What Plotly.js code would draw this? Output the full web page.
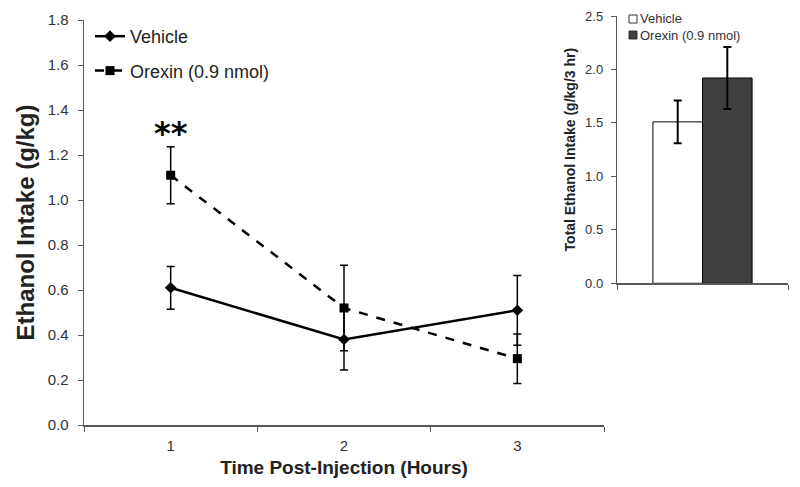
<!DOCTYPE html>
<html>
<head>
<meta charset="utf-8">
<script src="https://cdn.plot.ly/plotly-3.0.1.min.js"></script>
<style>html,body{margin:0;padding:0;background:#fff;}#chart{width:800px;height:487px;}</style>
</head>
<body>
<div id="chart"></div>
<script>
// Main time-course data
const hours = ['1', '2', '3'];
const vehicleMean = [0.61, 0.38, 0.51];
const vehicleErr = [0.095, 0.135, 0.155];
const orexinMean = [1.11, 0.52, 0.295];
const orexinErr = [0.127, 0.19, 0.11];
const seriesNames = ['Vehicle', 'Orexin (0.9 nmol)'];
const significance = {x: '1', y: 1.30, text: '**'};

// Inset totals
const totalCategory = ['Total'];
const totalVehicle = [1.51];
const totalVehicleErr = [0.20];
const totalOrexin = [1.92];
const totalOrexinErr = [0.29];

const FONT = 'Liberation Sans, Arial, sans-serif';

const traces = [
  {
    x: hours, y: vehicleMean, name: seriesNames[0], type: 'scatter', mode: 'lines+markers',
    line: {color: '#000', width: 2.5, dash: 'solid'},
    marker: {symbol: 'diamond', size: 9, color: '#000'},
    error_y: {type: 'data', array: vehicleErr, color: '#000', thickness: 1.5, width: 4},
    xaxis: 'x', yaxis: 'y', legend: 'legend', legendgroup: 'a'
  },
  {
    x: hours, y: orexinMean, name: seriesNames[1], type: 'scatter', mode: 'lines+markers',
    line: {color: '#000', width: 2.5, dash: 'dash'},
    marker: {symbol: 'square', size: 9, color: '#000'},
    error_y: {type: 'data', array: orexinErr, color: '#000', thickness: 1.5, width: 4},
    xaxis: 'x', yaxis: 'y', legend: 'legend', legendgroup: 'b'
  },
  {
    x: totalCategory, y: totalVehicle, name: seriesNames[0], type: 'bar',
    marker: {color: '#ffffff', line: {color: '#000', width: 1}},
    error_y: {type: 'data', array: totalVehicleErr, color: '#000', thickness: 2, width: 4},
    xaxis: 'x2', yaxis: 'y2', showlegend: false
  },
  {
    x: totalCategory, y: totalOrexin, name: seriesNames[1], type: 'bar',
    marker: {color: '#404040', line: {color: '#000', width: 1}},
    error_y: {type: 'data', array: totalOrexinErr, color: '#000', thickness: 2, width: 4},
    xaxis: 'x2', yaxis: 'y2', showlegend: false
  }
];

const layout = {
  width: 800, height: 487,
  margin: {l: 0, r: 0, t: 0, b: 0},
  paper_bgcolor: '#fff', plot_bgcolor: 'rgba(0,0,0,0)',
  font: {family: FONT, color: '#333'},
  barmode: 'group', bargap: 0.42, bargroupgap: 0,
  xaxis: {
    domain: [84/800, 604/800], anchor: 'y', type: 'category',
    range: [-0.5, 2.5], tickson: 'boundaries', ticks: 'outside', ticklen: 5,
    tickcolor: '#595959', showline: true, linecolor: '#595959', linewidth: 1.5,
    showgrid: false, zeroline: false,
    tickfont: {size: 15, color: '#333'}, ticklabelstandoff: 6,
    title: {text: '<b>Time Post-Injection (Hours)</b>', font: {size: 19, color: '#222'}, standoff: 8}
  },
  yaxis: {
    domain: [(487-425)/487, (487-20)/487], anchor: 'x',
    range: [0, 1.8], dtick: 0.2, tickformat: '.1f', ticks: 'outside', ticklen: 5,
    tickcolor: '#595959', showline: true, linecolor: '#595959', linewidth: 1.5,
    showgrid: false, zeroline: false,
    tickfont: {size: 15, color: '#333'}, ticklabelstandoff: 6,
    title: {text: '<b>Ethanol Intake (g/kg)</b>', font: {size: 24, color: '#222'}, standoff: 6}
  },
  xaxis2: {
    domain: [617/800, 788/800], anchor: 'y2', type: 'category',
    range: [-0.5, 0.5], tickson: 'boundaries', ticks: 'outside', ticklen: 5,
    tickcolor: '#595959', showline: true, linecolor: '#595959', linewidth: 1.2,
    showgrid: false, zeroline: false, showticklabels: false
  },
  yaxis2: {
    domain: [(487-283.3)/487, (487-16)/487], anchor: 'x2',
    range: [0, 2.5], dtick: 0.5, tickformat: '.1f', ticks: 'outside', ticklen: 5,
    tickcolor: '#595959', showline: true, linecolor: '#595959', linewidth: 1.2,
    showgrid: false, zeroline: false,
    tickfont: {size: 13, color: '#333'}, ticklabelstandoff: 5,
    title: {text: '<b>Total Ethanol Intake (g/kg/3 hr)</b>', font: {size: 14, color: '#222'}, standoff: 6}
  },
  legend: {
    x: 90/800, y: (487-18)/487, xanchor: 'left', yanchor: 'top',
    bgcolor: 'rgba(0,0,0,0)', borderwidth: 0,
    font: {size: 18, color: '#222'}, traceorder: 'grouped', tracegroupgap: 8
  },
  annotations: [
    {x: hours.indexOf(significance.x), y: significance.y, xref: 'x', yref: 'y', text: '<b>' + significance.text + '</b>',
     showarrow: false, font: {size: 32, color: '#000', family: 'DejaVu Sans, sans-serif'}, xanchor: 'center', yanchor: 'middle'},
    {x: 638/800, y: (487-19)/487, xref: 'paper', yref: 'paper', text: seriesNames[0], showarrow: false,
     xanchor: 'left', yanchor: 'middle', font: {size: 13, color: '#333'}},
    {x: 638/800, y: (487-35)/487, xref: 'paper', yref: 'paper', text: seriesNames[1], showarrow: false,
     xanchor: 'left', yanchor: 'middle', font: {size: 13, color: '#333'}}
  ],
  shapes: [
    {type: 'rect', xref: 'paper', yref: 'paper', x0: 629/800, x1: 637/800, y0: (487-23)/487, y1: (487-15)/487,
     line: {color: '#333', width: 1}, fillcolor: '#fff'},
    {type: 'rect', xref: 'paper', yref: 'paper', x0: 629/800, x1: 637/800, y0: (487-39)/487, y1: (487-31)/487,
     line: {color: '#333', width: 1}, fillcolor: '#404040'}
  ]
};

Plotly.newPlot('chart', traces, layout, {displayModeBar: false, staticPlot: true});
</script>
</body>
</html>
